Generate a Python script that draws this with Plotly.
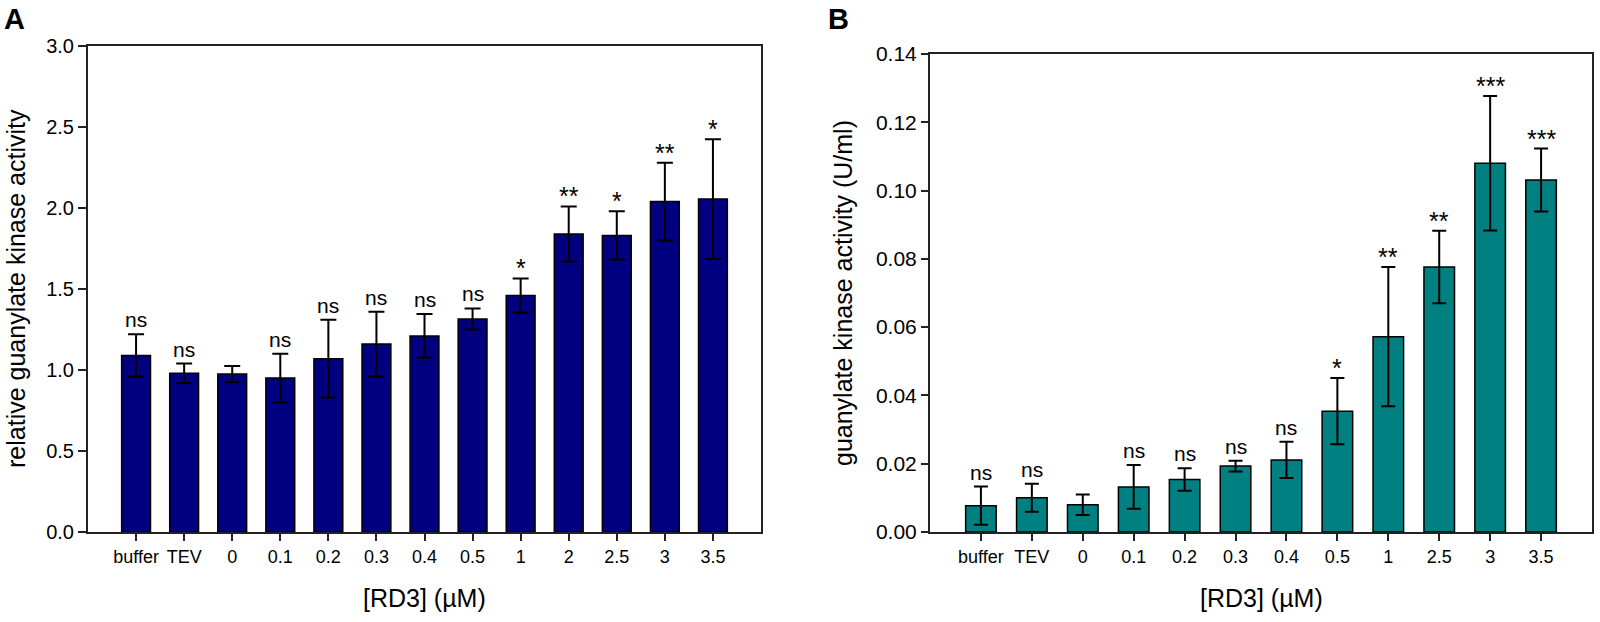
import plotly.graph_objects as go

# Panel A data
cats_a = ["buffer", "TEV", "0", "0.1", "0.2", "0.3", "0.4", "0.5", "1", "2", "2.5", "3", "3.5"]
vals_a = [1.09, 0.98, 0.975, 0.95, 1.07, 1.16, 1.21, 1.315, 1.46, 1.84, 1.83, 2.04, 2.055]
errs_a = [0.13, 0.06, 0.05, 0.15, 0.24, 0.20, 0.135, 0.065, 0.105, 0.17, 0.15, 0.24, 0.37]
sig_a = ["ns", "ns", "", "ns", "ns", "ns", "ns", "ns", "*", "**", "*", "**", "*"]

# Panel B data
cats_b = ["buffer", "TEV", "0", "0.1", "0.2", "0.3", "0.4", "0.5", "1", "2.5", "3", "3.5"]
vals_b = [0.0077, 0.0100, 0.0080, 0.0132, 0.0154, 0.0193, 0.0211, 0.0354, 0.0572, 0.0776, 0.1080, 0.1031]
errs_b = [0.0056, 0.0041, 0.0030, 0.0064, 0.0033, 0.0016, 0.0053, 0.0097, 0.0204, 0.0106, 0.0197, 0.0092]
sig_b = ["ns", "ns", "", "ns", "ns", "ns", "ns", "*", "**", "**", "***", "***"]

ticks_a = [0.0, 0.5, 1.0, 1.5, 2.0, 2.5, 3.0]
ticks_b = [0.00, 0.02, 0.04, 0.06, 0.08, 0.10, 0.12, 0.14]

W, H = 1600, 622
FONT = "Liberation Sans, Arial, sans-serif"

fig = go.Figure()
fig.add_trace(go.Bar(
    x=cats_a, y=vals_a, xaxis="x", yaxis="y",
    marker=dict(color="#000080", line=dict(color="black", width=1.5)),
    error_y=dict(type="data", array=errs_a, visible=True, color="black", thickness=2, width=8),
    width=0.6, showlegend=False,
))
fig.add_trace(go.Bar(
    x=cats_b, y=vals_b, xaxis="x2", yaxis="y2",
    marker=dict(color="#008080", line=dict(color="black", width=1.5)),
    error_y=dict(type="data", array=errs_b, visible=True, color="black", thickness=2, width=7),
    width=0.6, showlegend=False,
))

annotations = []
for cats, vals, errs, sig, xr, yr in [(cats_a, vals_a, errs_a, sig_a, "x", "y"),
                                      (cats_b, vals_b, errs_b, sig_b, "x2", "y2")]:
    for i, (v, e, s) in enumerate(zip(vals, errs, sig)):
        if not s:
            continue
        if s == "ns":
            annotations.append(dict(x=i, y=v + e, xref=xr, yref=yr, text=s, showarrow=False,
                                    yanchor="bottom", yshift=1, font=dict(size=21, color="black", family=FONT)))
        else:
            annotations.append(dict(x=i, y=v + e, xref=xr, yref=yr, text=s, showarrow=False,
                                    yanchor="bottom", yshift=-6, font=dict(size=25, color="black", family=FONT)))

# axis titles and panel letters
def pa(text, x, y, size, angle=0, **kw):
    return dict(x=x / W, y=1 - y / H, xref="paper", yref="paper", text=text, showarrow=False,
                textangle=angle, font=dict(size=size, color="black", family=FONT), **kw)

annotations += [
    pa("<b>A</b>", 2, 1, 29, xanchor="left", yanchor="top"),
    pa("<b>B</b>", 826, 1, 29, xanchor="left", yanchor="top"),
    pa("[RD3] (µM)", 424.5, 598, 25, xanchor="center", yanchor="middle"),
    pa("[RD3] (µM)", 1261, 598, 25, xanchor="center", yanchor="middle"),
    pa("relative guanylate kinase activity", 16, 289, 25, angle=-90, xanchor="center", yanchor="middle"),
    pa("guanylate kinase activity (U/ml)", 843, 293, 25, angle=-90, xanchor="center", yanchor="middle"),
]

axis_common = dict(showline=True, linecolor="#222", linewidth=2, mirror=True, ticks="outside",
                   tickcolor="#222", tickwidth=2, showgrid=False, zeroline=False, automargin=False)

fig.update_layout(
    width=W, height=H, paper_bgcolor="white", plot_bgcolor="white",
    margin=dict(l=0, r=0, t=0, b=0), bargap=0.4,
    font=dict(family=FONT, color="black"),
    xaxis=dict(domain=[88 / W, 761 / W], anchor="y", range=[-1, len(cats_a)], type="category",
               ticklen=7, tickfont=dict(size=18), **axis_common),
    yaxis=dict(domain=[1 - 532 / H, 1 - 46 / H], anchor="x", range=[0, 3.0], tickvals=ticks_a,
               tickformat=".1f", ticklen=8, tickfont=dict(size=20), **axis_common),
    xaxis2=dict(domain=[930 / W, 1592 / W], anchor="y2", range=[-1, len(cats_b)], type="category",
                ticklen=7, tickfont=dict(size=18), **axis_common),
    yaxis2=dict(domain=[1 - 532 / H, 1 - 54 / H], anchor="x2", range=[0, 0.14], tickvals=ticks_b,
                tickformat=".2f", ticklen=7, tickfont=dict(size=21), **axis_common),
    annotations=annotations,
)

fig.write_html("out.html", config={"displayModeBar": False},
               post_script="document.body.style.margin='0';")
